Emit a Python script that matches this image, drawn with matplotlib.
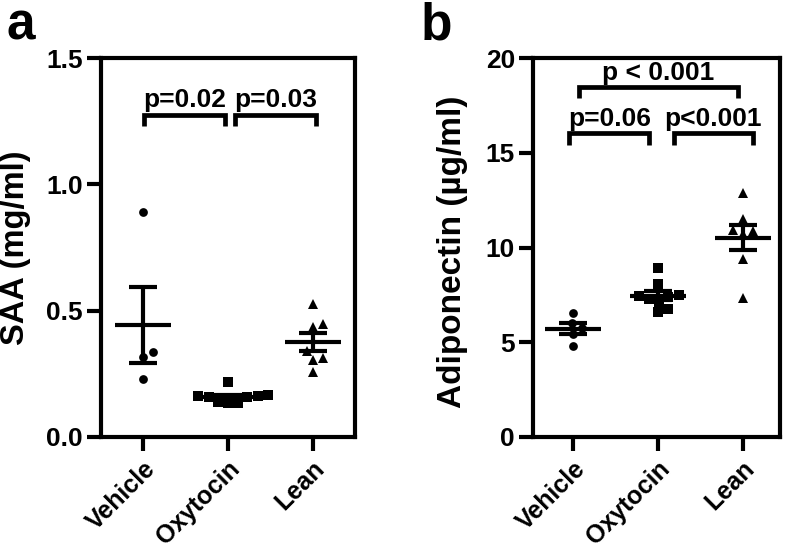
import numpy as np
import matplotlib
matplotlib.use("Agg")
import matplotlib.pyplot as plt

plt.rcParams['font.family'] = ['Liberation Sans', 'DejaVu Sans']
plt.rcParams['font.weight'] = 'bold'

# ---------------- data ----------------
categories = ["Vehicle", "Oxytocin", "Lean"]

saa_vehicle = [0.89, 0.337, 0.318, 0.228]
saa_oxytocin = [0.219, 0.165, 0.162, 0.162, 0.160, 0.158, 0.138, 0.136, 0.134]
saa_lean = [0.526, 0.446, 0.437, 0.340, 0.314, 0.305, 0.258]

adipo_vehicle = [6.55, 6.0, 5.75, 5.45, 4.8]
adipo_oxytocin = [8.9, 8.05, 7.5, 7.45, 7.4, 7.3, 7.15, 6.75, 6.6]
adipo_lean = [12.86, 11.49, 10.92, 10.85, 10.71, 9.38, 7.32]

saa_ticks = [0.0, 0.5, 1.0, 1.5]
saa_ticklabels = ["0.0", "0.5", "1.0", "1.5"]
adipo_ticks = [0, 5, 10, 15, 20]
adipo_ticklabels = ["0", "5", "10", "15", "20"]

saa_pvals = ["p=0.02", "p=0.03"]
adipo_pvals = ["p < 0.001", "p=0.06", "p<0.001"]

markers = ["o", "s", "^"]
msizes = [6.3, 6.6, 7.0]
LW = 3.0
FS = 19


def swarm_offsets(ax, values, d_px):
    trans = ax.transData
    p0 = trans.transform((0, 0))
    p1 = trans.transform((1, 1))
    sx = p1[0] - p0[0]
    sy = p1[1] - p0[1]
    vals = np.asarray(values, float)
    order = np.argsort(vals)
    placed = []
    offs = np.zeros(len(vals))
    for i in order:
        y = vals[i] * sy
        cands = [0.0]
        for (xp, yp) in placed:
            dy = abs(y - yp)
            if dy < d_px:
                dx = np.sqrt(d_px ** 2 - dy ** 2)
                cands += [xp + dx, xp - dx]
        cands = sorted(cands, key=lambda c: (abs(c), -c))
        for c in cands:
            ok = all((c - xp) ** 2 + (y - yp) ** 2 >= d_px ** 2 - 1e-6 for xp, yp in placed)
            if ok:
                break
        placed.append((c, y))
        offs[i] = c / sx
    return offs


def panel(ax, groups, ylim, ticks, ticklabels, xlim, dpx):
    ax.set_xlim(*xlim)
    ax.set_ylim(*ylim)
    for s in ax.spines.values():
        s.set_linewidth(LW)
    ax.set_yticks(ticks)
    ax.set_yticklabels(ticklabels, fontsize=FS, fontweight='bold')
    ax.set_xticks(range(len(categories)))
    ax.set_xticklabels(categories, fontsize=18, fontweight='bold', rotation=45,
                       ha='right', va='top', rotation_mode='anchor')
    ax.tick_params(axis='both', width=LW, length=10, pad=3, direction='out')
    ax.tick_params(axis='x', pad=4)
    for i, vals in enumerate(groups):
        offs = swarm_offsets(ax, vals, dpx)
        ax.plot(i + offs, vals, linestyle='none', marker=markers[i],
                markersize=msizes[i], color='black', markeredgewidth=0, zorder=3)
        v = np.asarray(vals, float)
        m = v.mean()
        sem = v.std(ddof=1) / np.sqrt(len(v))
        ax.plot([i - 0.33, i + 0.33], [m, m], color='black', lw=LW, zorder=4,
                solid_capstyle='butt')
        ax.plot([i, i], [m - sem, m + sem], color='black', lw=LW, zorder=4,
                solid_capstyle='butt')
        for yy in (m - sem, m + sem):
            ax.plot([i - 0.165, i + 0.165], [yy, yy], color='black', lw=LW, zorder=4,
                    solid_capstyle='butt')


def bracket(ax, x0, x1, y, drop, text, ty):
    ax.plot([x0, x0, x1, x1], [y - drop, y, y, y - drop], color='black', lw=3.4,
            solid_capstyle='butt', solid_joinstyle='miter', clip_on=False, zorder=5)
    ax.text((x0 + x1) / 2, ty, text, ha='center', va='bottom', fontsize=FS,
            fontweight='bold')


fig = plt.figure(figsize=(7.87, 5.58), dpi=100)
W, H = 787.0, 558.0
axA = fig.add_axes([101 / W, (H - 437) / H, (355 - 101) / W, (437 - 58) / H])
axB = fig.add_axes([533 / W, (H - 437) / H, (780 - 533) / W, (437 - 58) / H])

panel(axA, [saa_vehicle, saa_oxytocin, saa_lean], (0, 1.5), saa_ticks,
      saa_ticklabels, (-0.5, 2.5), 10.5)
panel(axB, [adipo_vehicle, adipo_oxytocin, adipo_lean], (0, 20), adipo_ticks,
      adipo_ticklabels, (-0.47, 2.44), 10.5)

bracket(axA, 0.01, 0.96, 1.274, 0.045, saa_pvals[0], 1.285)
bracket(axA, 1.08, 2.04, 1.274, 0.045, saa_pvals[1], 1.285)

bracket(axB, 0.07, 1.94, 18.47, 0.58, adipo_pvals[0], 18.58)
bracket(axB, -0.04, 0.90, 16.04, 0.63, adipo_pvals[1], 16.15)
bracket(axB, 1.19, 2.12, 16.04, 0.63, adipo_pvals[2], 16.15)

fig.text(16 / W, 1 - 248 / H, "SAA (mg/ml)", rotation=90, ha='center', va='center',
         fontsize=23.5, fontweight='bold')
fig.text(452 / W, 1 - 252 / H, "Adiponectin (µg/ml)", rotation=90, ha='center',
         va='center', fontsize=24, fontweight='bold')

fig.text(6 / W, 1 - 40 / H, "a", ha='left', va='baseline', fontsize=37, fontweight='bold')
fig.text(421 / W, 1 - 40 / H, "b", ha='left', va='baseline', fontsize=37, fontweight='bold')

fig.savefig("out.png", dpi=100)
